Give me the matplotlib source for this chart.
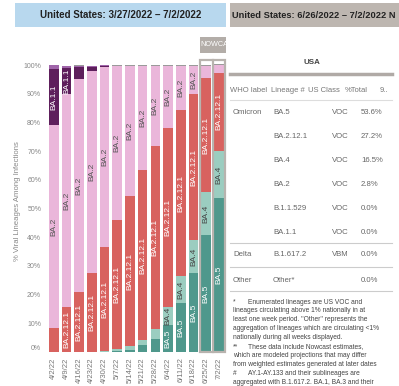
import matplotlib
matplotlib.use('Agg')
import matplotlib.pyplot as plt
from matplotlib.patches import Rectangle

plt.rcParams['font.family'] = ['Liberation Sans', 'DejaVu Sans']

# ---------------- data ----------------
dates = ['4/2/22', '4/9/22', '4/16/22', '4/23/22', '4/30/22', '5/7/22', '5/14/22',
         '5/21/22', '5/28/22', '6/4/22', '6/11/22', '6/18/22', '6/25/22', '7/2/22']
lineages = ['BA.5', 'BA.4', 'BA.2.12.1', 'BA.2', 'BA.1.1', 'B.1.1.529', 'Other']
ba5 = [0, 0, 0, 0, 0.1, 0.4, 0.7, 2.4, 4.5, 9.4, 17.0, 27.5, 40.8, 53.6]
ba4 = [0, 0, 0, 0.1, 0.2, 0.6, 1.3, 1.8, 3.5, 6.3, 9.5, 11.5, 14.9, 16.5]
ba2121 = [8.4, 15.7, 20.9, 27.4, 36.3, 45.0, 52.4, 59.2, 63.8, 62.3, 57.8, 50.9, 39.8, 27.2]
ba2 = [70.7, 74.2, 74.2, 70.4, 62.8, 53.7, 45.3, 36.3, 27.9, 21.7, 15.4, 9.8, 4.1, 2.8]
ba11 = [19.5, 9.2, 4.3, 1.5, 0.4, 0, 0, 0, 0, 0, 0, 0, 0, 0]
b11529 = [1.3, 0.4, 0.3, 0.2, 0.1, 0.1, 0.1, 0, 0, 0, 0, 0, 0, 0]
other = [0.2, 0.2, 0.2, 0.2, 0.2, 0.2, 0.2, 0.2, 0.2, 0.2, 0.2, 0.2, 0.3, 0.2]
series = [ba5, ba4, ba2121, ba2, ba11, b11529, other]
colors = ['#4f988c', '#9bcdc0', '#d8625f', '#eab6da', '#5e1f5c', '#a065aa', '#9a9a9a']
label_colors = ['white', '#444444', 'white', '#555555', 'white', 'white', 'white']
extra_labels = [(9, 'BA.4')]  # small segments that still carry a label

y_ticks = list(range(0, 101, 10))

table_header = ['WHO label', 'Lineage #', 'US Class', '%Total', '9..']
who_label = ['Omicron', '', '', '', '', '', 'Delta', 'Other']
lineage_no = ['BA.5', 'BA.2.12.1', 'BA.4', 'BA.2', 'B.1.1.529', 'BA.1.1', 'B.1.617.2', 'Other*']
us_class = ['VOC', 'VOC', 'VOC', 'VOC', 'VOC', 'VOC', 'VBM', '']
pct_total = [53.6, 27.2, 16.5, 2.8, 0.0, 0.0, 0.0, 0.0]

footnotes = [
    ('*', 'Enumerated lineages are US VOC and'),
    ('', 'lineages circulating above 1% nationally in at'),
    ('', 'least one week period. "Other" represents the'),
    ('', 'aggregation of lineages which are circulating <1%'),
    ('', 'nationally during all weeks displayed.'),
    ('**', 'These data include Nowcast estimates,'),
    ('', 'which are modeled projections that may differ'),
    ('', 'from weighted estimates generated at later dates'),
    ('#', 'AY.1-AY.133 and their sublineages are'),
    ('', 'aggregated with B.1.617.2. BA.1, BA.3 and their'),
]

# ---------------- figure ----------------
W, H = 399, 386
fig = plt.figure(figsize=(W / 100, H / 100), dpi=100)
fig.patch.set_facecolor('white')

ov = fig.add_axes([0, 0, 1, 1])
ov.set_xlim(0, W)
ov.set_ylim(H, 0)
ov.axis('off')

# title bars
ov.add_patch(Rectangle((15, 3), 211, 24, facecolor='#b8d8ee', edgecolor='none'))
ov.text(120.5, 15.5, 'United States: 3/27/2022 \u2013 7/2/2022', ha='center', va='center',
        fontsize=7, fontweight='bold', color='#222222')
ov.add_patch(Rectangle((230, 3), 169, 24, facecolor='#bdb6b0', edgecolor='none'))
ov.text(232, 15.5, 'United States: 6/26/2022 \u2013 7/2/2022 N', ha='left', va='center',
        fontsize=6.7, fontweight='bold', color='#222222')

# y label
ov.text(18, 201, '% Viral Lineages Among Infections', rotation=90, ha='center', va='center',
        fontsize=5.6, color='#888888')

# ---------------- bar chart ----------------
ax = fig.add_axes([44 / W, 1 - 352 / H, (228 - 44) / W, (352 - 65) / H])
ax.patch.set_alpha(0)
x = list(range(len(dates)))
bottom = [0.0] * len(dates)
for si, (vals, col) in enumerate(zip(series, colors)):
    ax.bar(x, vals, bottom=bottom, width=0.75, color=col, linewidth=0, clip_on=False)
    for i, v in enumerate(vals):
        if v >= 9 or (i, lineages[si]) in extra_labels:
            ax.text(i, bottom[i] + v / 2, lineages[si], rotation=90, ha='center', va='center',
                    fontsize=6.0, color=label_colors[si])
    bottom = [b + v for b, v in zip(bottom, vals)]

ax.set_xlim(-0.768, 13.72)
ax.set_ylim(0, 100)
for s in ax.spines.values():
    s.set_visible(False)
ax.set_yticks(y_ticks)
ax.set_yticklabels([f'{t}%' for t in y_ticks])
ax.set_xticks(x)
ax.set_xticklabels(dates, rotation=90)
ax.tick_params(axis='y', length=0, labelsize=5, colors='#888888', pad=2)
ax.tick_params(axis='x', length=0, labelsize=5.5, colors='#777777', pad=4)
ax.get_yticklabels()[0].set_va('bottom')

# nowcast frame
ax.add_patch(Rectangle((11.5, 0), 2, 101.6, fill=False, edgecolor='#b8b3ae', lw=1.6, clip_on=False))
ax.plot([12.5, 12.5], [0, 101.6], color='#b8b3ae', lw=1.6, clip_on=False)

nc = fig.add_axes([200 / W, 1 - 53 / H, 26 / W, 16 / H])
nc.set_facecolor('#b3ada8')
nc.set_xticks([])
nc.set_yticks([])
for s in nc.spines.values():
    s.set_visible(False)
nc.text(0.03, 0.5, 'NOWCAST', ha='left', va='center', fontsize=5.2, color='white',
        transform=nc.transAxes, clip_on=True)

# ---------------- table ----------------
ov.text(312, 63, 'USA', ha='center', va='center', fontsize=5.7, fontweight='bold', color='#444444')
ov.plot([230, 392], [74, 74], color='#b0aaa6', lw=2.5)
hdr_x = [230, 271, 308, 345, 380]
for hx, h in zip(hdr_x, table_header):
    ov.text(hx, 91, h, ha='left', va='center', fontsize=5.5, color='#777777')
ov.plot([230, 392], [100, 100], color='#dddddd', lw=0.8)

row_y = [112, 136, 160, 184, 208, 232, 255, 280]
for ry, w_, l_, c_, p_ in zip(row_y, who_label, lineage_no, us_class, pct_total):
    ov.text(233, ry, w_, ha='left', va='center', fontsize=5.6, color='#666666')
    ov.text(273, ry, l_, ha='left', va='center', fontsize=5.6, color='#666666')
    ov.text(332, ry, c_, ha='left', va='center', fontsize=5.6, color='#666666')
    ov.text(361, ry, f'{p_:.1f}%', ha='left', va='center', fontsize=5.6, color='#666666')
for ly in [243, 267, 291]:
    ov.plot([230, 392], [ly, ly], color='#cccccc', lw=0.8)

fy = 302
for mark, txt in footnotes:
    if mark:
        ov.text(233, fy, mark, ha='left', va='center', fontsize=4.8, color='#444444')
        ov.text(248, fy, txt, ha='left', va='center', fontsize=4.8, color='#444444')
    else:
        ov.text(233, fy, txt, ha='left', va='center', fontsize=4.8, color='#444444')
    fy += 8.9

fig.savefig('out.png', dpi=100, facecolor='white')
